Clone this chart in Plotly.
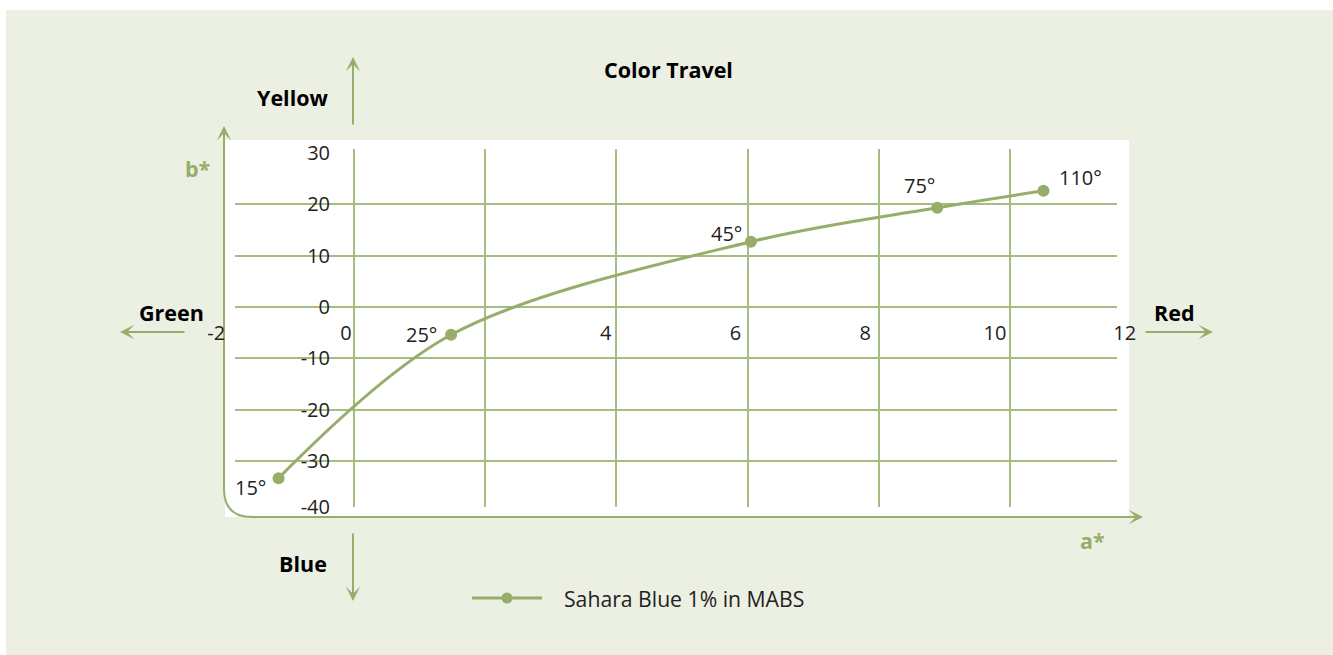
import plotly.graph_objects as go

W, H = 1333, 655


def px(x):
    return x / W


def py(y):
    return 1 - y / H


# ---------------- data ----------------
angles = ["15°", "25°", "45°", "75°", "110°"]
a_star = [-1.15, 1.48, 6.05, 8.89, 10.51]
b_star = [-33.3, -5.4, 12.7, 19.3, 22.6]
series_name = "Sahara Blue 1% in MABS"
grid_x = [0, 2, 4, 6, 8, 10]
grid_y = [-30, -20, -10, 0, 10, 20]
x_tick_labels = [-2, 0, 4, 6, 8, 10, 12]
y_tick_labels = [-40, -30, -20, -10, 0, 10, 20, 30]
title_text = "Color Travel"

# ---------------- style ----------------
GREEN = "#97AE6B"
GRID = "#A6BD82"
BG = "#ECF0E3"
TXT = "#222222"
FONT = "Open Sans"

XR = [-1.814, 11.631]
YR = [-38.91, 30.74]
X2R = [-2.25, 12.234]
label_offsets = [(-28, -9), (-30, 0), (-24, 8), (-18, 22), (37, 13)]

fig = go.Figure()
fig.add_trace(go.Scatter(
    x=a_star, y=b_star, mode="lines+markers", name=series_name,
    line=dict(color=GREEN, width=3, shape="spline", smoothing=0.95),
    marker=dict(color=GREEN, size=12),
    showlegend=False, cliponaxis=False, hoverinfo="x+y",
))
# label axes subplot (no marks)
fig.add_trace(go.Scatter(x=[], y=[], xaxis="x2", yaxis="y2",
                         showlegend=False, hoverinfo="skip"))

ytick_pos = [max(v, YR[0] + 0.06) for v in y_tick_labels]

fig.update_layout(
    width=W, height=H, autosize=False,
    margin=dict(l=0, r=0, t=0, b=0, pad=0, autoexpand=False),
    paper_bgcolor=BG, plot_bgcolor="rgba(0,0,0,0)",
    font=dict(family=FONT, size=20, color=TXT),
    showlegend=False,
    xaxis=dict(domain=[px(235), px(1117)], range=XR, tickvals=grid_x,
               showticklabels=False, showgrid=True, gridcolor=GRID, gridwidth=1.5,
               zeroline=False, showline=False, ticks="", anchor="y", fixedrange=True),
    yaxis=dict(domain=[py(507), py(149)], range=YR, tickvals=grid_y,
               showticklabels=False, showgrid=True, gridcolor=GRID, gridwidth=1.5,
               zeroline=False, showline=False, ticks="", anchor="x", fixedrange=True),
    xaxis2=dict(domain=[px(200), px(1140)], range=X2R, tickvals=x_tick_labels,
                ticktext=[str(v) for v in x_tick_labels],
                anchor="free", position=py(307), showgrid=False, zeroline=False,
                showline=False, ticks="", ticklabelstandoff=12,
                tickfont=dict(size=20, color=TXT, family=FONT), fixedrange=True),
    yaxis2=dict(domain=[py(507), py(149)], range=YR, tickvals=ytick_pos,
                ticktext=[str(v) for v in y_tick_labels],
                anchor="free", position=px(354), showgrid=False, zeroline=False,
                showline=False, ticks="", ticklabelstandoff=24,
                tickfont=dict(size=20, color=TXT, family=FONT), fixedrange=True),
)

shapes = [
    dict(type="rect", xref="paper", yref="paper", x0=0, x1=1, y0=py(10), y1=1,
         fillcolor="white", line=dict(width=0), layer="below"),
    dict(type="rect", xref="paper", yref="paper", x0=0, x1=px(6), y0=0, y1=1,
         fillcolor="white", line=dict(width=0), layer="below"),
    dict(type="rect", xref="paper", yref="paper", x0=px(225), x1=px(1129),
         y0=py(517), y1=py(140), fillcolor="white", line=dict(width=0), layer="below"),
    dict(type="path", xref="paper", yref="paper",
         path=(f"M {px(224)},{py(140)} L {px(224)},{py(489)} "
               f"Q {px(224)},{py(517)} {px(252)},{py(517)} L {px(1128)},{py(517)}"),
         line=dict(color=GREEN, width=2), layer="below"),
    # manual legend
    dict(type="line", xref="paper", yref="paper", x0=px(472), x1=px(542),
         y0=py(598), y1=py(598), line=dict(color=GREEN, width=3)),
    dict(type="circle", xref="paper", yref="paper", x0=px(501.5), x1=px(512.5),
         y0=py(603.5), y1=py(592.5), fillcolor=GREEN, line=dict(width=0)),
]
fig.update_layout(shapes=shapes)

ann = []


def arrow(tx, ty, ax, ay):
    ann.append(dict(xref="paper", yref="paper", x=px(tx), y=py(ty), ax=ax, ay=ay,
                    text="", showarrow=True, arrowhead=3, arrowsize=1.2,
                    arrowwidth=2, arrowcolor=GREEN, borderpad=0, standoff=0))


arrow(224, 126, 0, 30)      # b*
arrow(1143, 517, -30, 0)    # a*
arrow(353, 57, 0, 68)       # Yellow
arrow(353, 601, 0, -68)     # Blue
arrow(120, 332, 65, 0)      # Green
arrow(1213, 332, -68, 0)    # Red


def label(text, x, y, color="black", size=21.5, bold=True, xanchor="center"):
    ann.append(dict(xref="paper", yref="paper", x=px(x), y=py(y),
                    text=f"<b>{text}</b>" if bold else text, showarrow=False,
                    xanchor=xanchor, yanchor="middle",
                    font=dict(family=FONT, size=size, color=color)))


label(title_text, 668, 69)
label("Yellow", 293, 97)
label("Blue", 303, 563)
label("Green", 171, 312)
label("Red", 1174, 312)
label("b*", 198, 168, color=GREEN)
label("a*", 1092, 540, color=GREEN)
label(series_name, 562, 598, color=TXT, size=21.2, bold=False, xanchor="left")

for t, xv, yv, (dx, dy) in zip(angles, a_star, b_star, label_offsets):
    ann.append(dict(xref="x", yref="y", x=xv, y=yv, text=t, showarrow=False,
                    xshift=dx, yshift=dy,
                    font=dict(family=FONT, size=20, color=TXT)))

fig.update_layout(annotations=ann)

page_js = ("document.documentElement.style.margin='0';"
           "document.body.style.margin='0';document.body.style.padding='0';"
           "document.documentElement.style.overflow='hidden';"
           "document.body.style.overflow='hidden';")
fig.write_html("out.html", post_script=page_js,
               config={"responsive": False, "displayModeBar": False})
